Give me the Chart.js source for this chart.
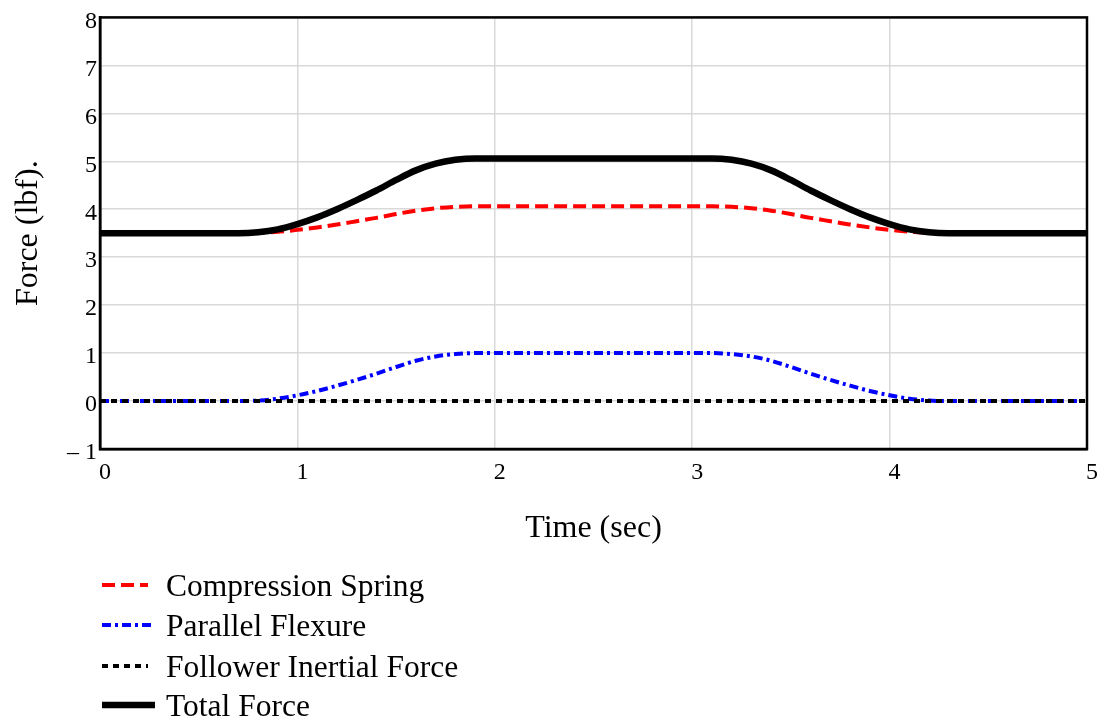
<!DOCTYPE html>
<html>
<head>
<meta charset="utf-8">
<script src="https://cdn.jsdelivr.net/npm/chart.js@4.4.1/dist/chart.umd.min.js"></script>
<style>
  html, body { margin: 0; padding: 0; background: #fff; }
  #wrap { width: 1097px; height: 718px; position: relative; }
</style>
</head>
<body>
<div id="wrap"><canvas id="chart"></canvas></div>
<script>
// time axis (sec), 0.1 s steps
const time = [0,0.1,0.2,0.3,0.4,0.5,0.6,0.7,0.8,0.9,1,1.1,1.2,1.3,1.4,1.5,1.6,1.7,1.8,1.9,2,
  2.1,2.2,2.3,2.4,2.5,2.6,2.7,2.8,2.9,3,3.1,3.2,3.3,3.4,3.5,3.6,3.7,3.8,3.9,4,
  4.1,4.2,4.3,4.4,4.5,4.6,4.7,4.8,4.9,5];

// forces (lbf)
const compressionSpring = [3.5,3.5,3.5,3.5,3.5,3.5,3.5,3.5,3.51,3.53,3.57,3.62,3.68,3.75,3.82,3.90,3.97,4.02,4.05,
  4.06,4.06,4.06,4.06,4.06,4.06,4.06,4.06,4.06,4.06,4.06,4.06,4.06,
  4.05,4.02,3.97,3.90,3.82,3.75,3.68,3.62,3.57,3.53,3.51,3.5,3.5,3.5,3.5,3.5,3.5,3.5,3.5];
const parallelFlexure = [0,0,0,0,0,0,0,0,0.01,0.05,0.12,0.21,0.32,0.44,0.57,0.71,0.84,0.93,0.98,
  1,1,1,1,1,1,1,1,1,1,1,1,1,
  0.98,0.93,0.84,0.71,0.57,0.44,0.32,0.21,0.12,0.05,0.01,0,0,0,0,0,0,0,0];
const followerInertial = [0,0,0,0,0,0,0,0,0,0,0,0,0,0,0,0,0,0,0,0,0,0,0,0,0,0,
  0,0,0,0,0,0,0,0,0,0,0,0,0,0,0,0,0,0,0,0,0,0,0,0,0];
const totalForce = [3.5,3.5,3.5,3.5,3.5,3.5,3.5,3.5,3.52,3.58,3.69,3.83,4.00,4.19,4.39,4.61,4.81,4.95,5.03,
  5.06,5.06,5.06,5.06,5.06,5.06,5.06,5.06,5.06,5.06,5.06,5.06,5.06,
  5.03,4.95,4.81,4.61,4.39,4.19,4.00,3.83,3.69,3.58,3.52,3.5,3.5,3.5,3.5,3.5,3.5,3.5,3.5];

const xTicks = [0, 1, 2, 3, 4, 5];
const yTicks = [-1, 0, 1, 2, 3, 4, 5, 6, 7, 8];

const seriesNames = ["Compression Spring", "Parallel Flexure", "Follower Inertial Force", "Total Force"];

const SERIF = "'Liberation Serif', 'Times New Roman', serif";

function pts(values) {
  return time.map((t, i) => ({ x: t, y: values[i] }));
}

const datasets = [
  { label: seriesNames[0], data: pts(compressionSpring), borderColor: "#ff0000", borderWidth: 4, borderDash: [13, 6], order: 3 },
  { label: seriesNames[1], data: pts(parallelFlexure), borderColor: "#0000ff", borderWidth: 4, borderDash: [9, 4, 3, 4], order: 2 },
  { label: seriesNames[2], data: pts(followerInertial), borderColor: "#000000", borderWidth: 4, borderDash: [6, 5], order: 1 },
  { label: seriesNames[3], data: pts(totalForce), borderColor: "#000000", borderWidth: 6.5, borderDash: [], order: 0 }
];
datasets.forEach(d => {
  d.pointRadius = 0;
  d.fill = false;
  d.cubicInterpolationMode = "monotone";
});

// black box around plot area
const framePlugin = {
  id: "frame",
  afterDraw(chart) {
    const { ctx, chartArea: a } = chart;
    ctx.save();
    ctx.strokeStyle = "#000";
    ctx.lineWidth = 2.5;
    ctx.strokeRect(a.left, a.top, a.right - a.left, a.bottom - a.top);
    ctx.restore();
  }
};

// stacked legend below the x title
const legendPlugin = {
  id: "stackLegend",
  afterDraw(chart) {
    const ctx = chart.ctx;
    const rows = [585, 625, 666, 705];
    const ends = [148, 155, 148, 155];
    ctx.save();
    chart.data.datasets.forEach((d, i) => {
      const y = rows[i];
      ctx.beginPath();
      ctx.strokeStyle = d.borderColor;
      ctx.lineWidth = d.borderWidth;
      ctx.setLineDash(d.borderDash);
      ctx.moveTo(102, y);
      ctx.lineTo(ends[i], y);
      ctx.stroke();
      ctx.setLineDash([]);
      ctx.fillStyle = "#000";
      ctx.font = "31.5px " + SERIF;
      ctx.textBaseline = "alphabetic";
      ctx.fillText(d.label, 166, y + 11);
    });
    ctx.restore();
  }
};

new Chart(document.getElementById("chart"), {
  type: "line",
  data: { datasets },
  plugins: [framePlugin, legendPlugin],
  options: {
    responsive: true,
    maintainAspectRatio: false,
    animation: false,
    layout: { padding: { top: 17, right: 0, bottom: 168, left: 0 } },
    plugins: {
      legend: { display: false },
      tooltip: { enabled: false }
    },
    scales: {
      x: {
        type: "linear",
        min: 0,
        max: 5,
        afterBuildTicks: s => { s.ticks = xTicks.map(v => ({ value: v })); },
        afterFit: s => { s.height = 101; s.paddingRight = 10; s.paddingLeft = 0; },
        ticks: { color: "#000", font: { family: SERIF, size: 24 }, padding: 9, labelOffset: 5, maxRotation: 0 },
        grid: { color: "#d9d9d9", lineWidth: 1.5, drawTicks: false },
        border: { color: "#000", width: 2.5 },
        title: { display: true, text: "Time (sec)", color: "#000", font: { family: SERIF, size: 32 }, padding: { top: 0, bottom: 2 } }
      },
      y: {
        min: -1,
        max: 8,
        afterBuildTicks: s => { s.ticks = yTicks.map(v => ({ value: v })); },
        afterFit: s => { s.width = 100; },
        ticks: {
          color: "#000",
          font: { family: SERIF, size: 24 },
          padding: 3,
          labelOffset: 4,
          callback: v => (v === -1 ? "\u2013 1" : String(v))
        },
        grid: { color: "#d9d9d9", lineWidth: 1.5, drawTicks: false },
        border: { color: "#000", width: 2.5 },
        title: { display: true, text: "Force (lbf).", color: "#000", font: { family: SERIF, size: 32 }, padding: { top: 9, bottom: 0 } }
      }
    }
  }
});
</script>
</body>
</html>
